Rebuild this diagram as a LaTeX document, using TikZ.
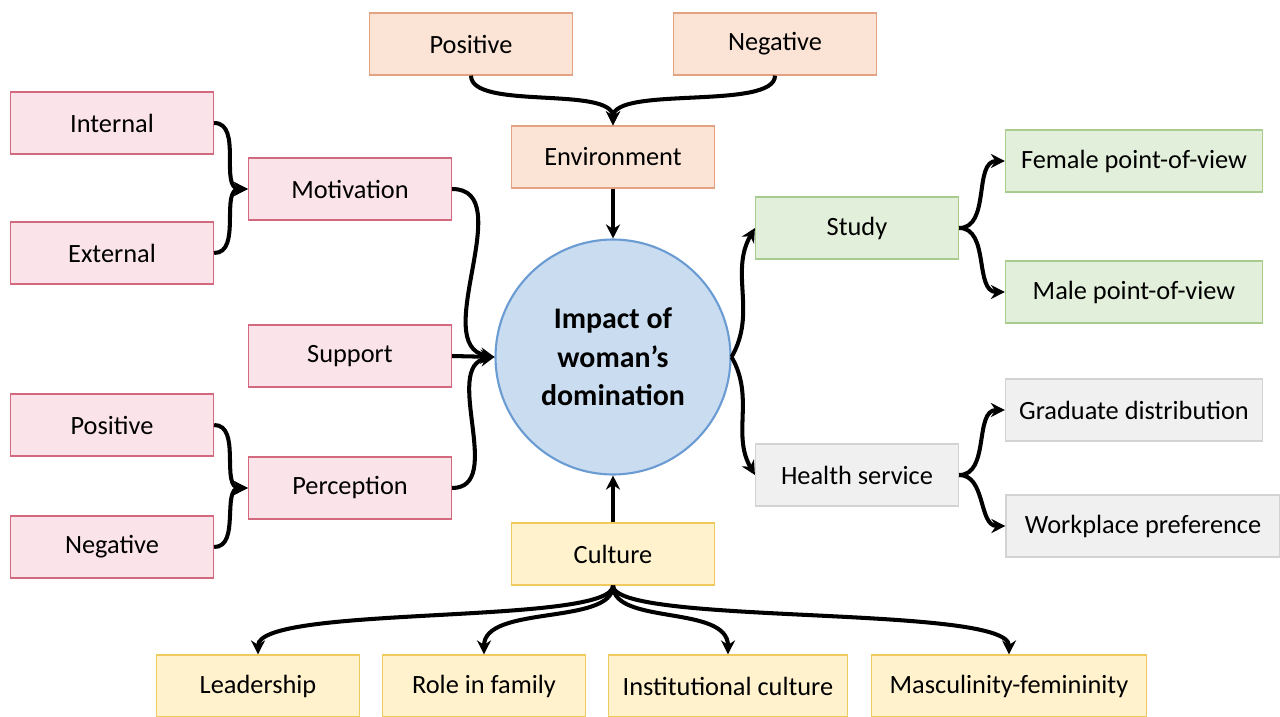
\documentclass[tikz,border=0pt]{standalone}
\usepackage{fontspec}
\setmainfont{Carlito}
\usepackage{tikz}
\usetikzlibrary{arrows.meta}

\definecolor{pinkfill}{HTML}{FBE3EA}
\definecolor{pinkline}{HTML}{D2697F}
\definecolor{peachfill}{HTML}{FBE4D6}
\definecolor{peachline}{HTML}{E3A282}
\definecolor{greenfill}{HTML}{E2EFDA}
\definecolor{greenline}{HTML}{A8CC8F}
\definecolor{grayfill}{HTML}{F0F0F0}
\definecolor{grayline}{HTML}{D3D3D3}
\definecolor{yellowfill}{HTML}{FFF2CC}
\definecolor{yellowline}{HTML}{EFCB5E}
\definecolor{bluefill}{HTML}{CADDF0}
\definecolor{blueline}{HTML}{6A9BD3}

\tikzset{
  box/.style={draw, rectangle, minimum width=4.06cm, minimum height=1.24cm,
    inner sep=0pt, line width=0.7pt, font=\fontsize{15}{18}\selectfont},
  pinkbox/.style={box, fill=pinkfill, draw=pinkline},
  peachbox/.style={box, fill=peachfill, draw=peachline},
  greenbox/.style={box, fill=greenfill, draw=greenline},
  graybox/.style={box, fill=grayfill, draw=grayline},
  yellowbox/.style={box, fill=yellowfill, draw=yellowline},
  link/.style={-{Stealth[length=8pt,width=8pt]}, line width=2.3pt},
}

\begin{document}
\begin{tikzpicture}[x=0.02cm, y=-0.02cm]

    \useasboundingbox (0,0) rectangle (1280,716);

    % centre
    \node[circle, draw=blueline, fill=bluefill, line width=1.2pt, minimum size=4.7cm,
      align=center, font=\fontsize{17}{22}\selectfont\bfseries] (impact) at (613,357)
      {Impact of\\woman’s\\domination};

    % left side
    \node[pinkbox] (internal) at (112,123) {Internal};
    \node[pinkbox] (external) at (112,253) {External};
    \node[pinkbox] (motivation) at (350,189) {Motivation};
    \node[pinkbox] (support) at (350,356) {Support};
    \node[pinkbox] (positiveL) at (112,425) {Positive};
    \node[pinkbox] (negativeL) at (112,547) {Negative};
    \node[pinkbox] (perception) at (350,488) {Perception};

    % top
    \node[peachbox] (positiveT) at (471,44) {Positive};
    \node[peachbox] (negativeT) at (775,44) {Negative};
    \node[peachbox] (environment) at (613,157) {Environment};

    % right side
    \node[greenbox] (study) at (857,228) {Study};
    \node[greenbox, minimum width=5.14cm] (female) at (1134,161) {Female point-of-view};
    \node[greenbox, minimum width=5.14cm] (male) at (1134,292) {Male point-of-view};
    \node[graybox] (health) at (857,475) {Health service};
    \node[graybox, minimum width=5.14cm] (graduate) at (1134,410) {Graduate distribution};
    \node[graybox, minimum width=5.48cm] (workplace) at (1143,526) {Workplace preference};

    % bottom
    \node[yellowbox] (culture) at (613,554) {Culture};
    \node[yellowbox] (leadership) at (258,686) {Leadership};
    \node[yellowbox] (family) at (484,686) {Role in family};
    \node[yellowbox, minimum width=4.78cm] (institution) at (728,686) {Institutional culture};
    \node[yellowbox, minimum width=5.5cm] (masculinity) at (1009,686) {Masculinity-femininity};

    \draw[link] (internal.east) to[out=0,in=180] (motivation.west);
    \draw[link] (external.east) to[out=0,in=180] (motivation.west);
    \draw[link] (positiveL.east) to[out=0,in=180] (perception.west);
    \draw[link] (negativeL.east) to[out=0,in=180] (perception.west);
    \draw[link] (motivation.east) to[out=0,in=170] (impact.west);
    \draw[link] (support.east) -- (impact.west);
    \draw[link] (perception.east) to[out=0,in=190] (impact.west);

    \draw[link] (positiveT.south) .. controls +(0,35) and +(0,-40) .. (environment.north);
    \draw[link] (negativeT.south) .. controls +(0,35) and +(0,-40) .. (environment.north);
    \draw[link] (environment.south) -- (impact.north);

    \draw[link] (impact.east) to[out=60,in=-120] (study.west);
    \draw[link] (impact.east) to[out=-60,in=120] (health.west);
    \draw[link] (study.east) to[out=0,in=180] (female.west);
    \draw[link] (study.east) to[out=0,in=180] (male.west);
    \draw[link] (health.east) to[out=0,in=180] (graduate.west);
    \draw[link] (health.east) to[out=0,in=180] (workplace.west);

    \draw[link] (culture.north) -- (impact.south);
    \draw[link] (culture.south) .. controls +(0,40) and +(0,-50) .. (leadership.north);
    \draw[link] (culture.south) .. controls +(0,40) and +(0,-50) .. (family.north);
    \draw[link] (culture.south) .. controls +(0,40) and +(0,-50) .. (institution.north);
    \draw[link] (culture.south) .. controls +(0,40) and +(0,-50) .. (masculinity.north);

\end{tikzpicture}
\end{document}
